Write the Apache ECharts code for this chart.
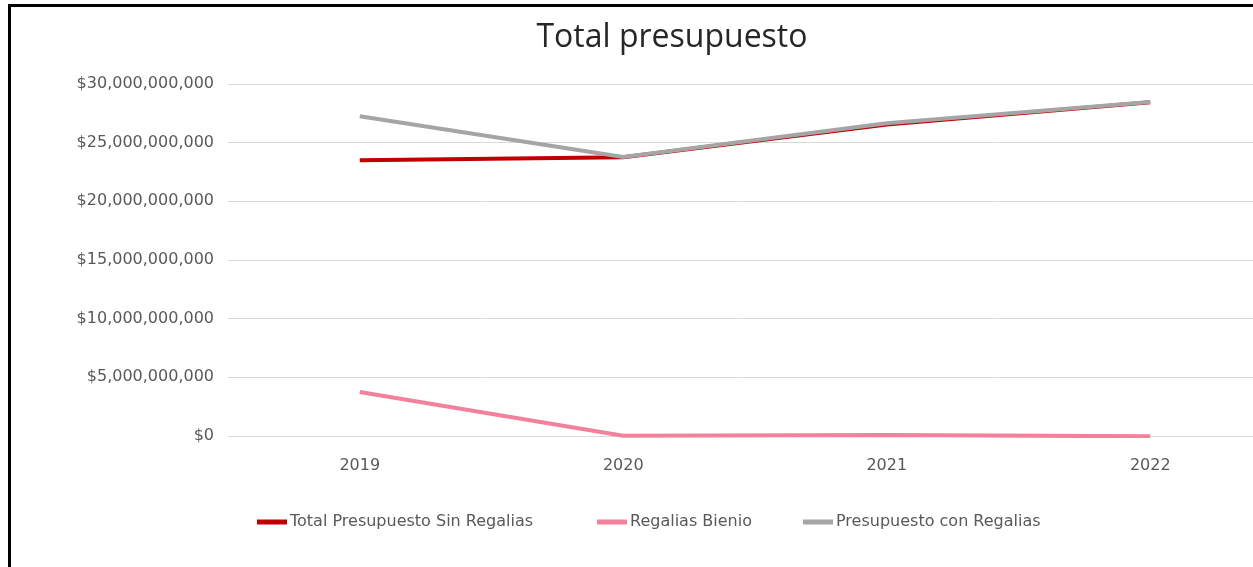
<!DOCTYPE html>
<html>
<head>
<meta charset="utf-8">
<script src="https://cdn.jsdelivr.net/npm/echarts@6/dist/echarts.min.js"></script>
<style>
  html, body { margin: 0; padding: 0; background: #fff; }
  #main { width: 1253px; height: 567px; }
</style>
</head>
<body>
<div id="main"></div>
<script>
// categorias (años)
const years = [2019, 2020, 2021, 2022];
// valores
const sinRegalias = [23500000000, 23750000000, 26550000000, 28450000000];
const regaliasBienio = [3750000000, 20000000, 80000000, -30000000];
const conRegalias = [27250000000, 23770000000, 26650000000, 28470000000];

const seriesNames = ["Total Presupuesto Sin Regalias", "Regalias Bienio", "Presupuesto con Regalias"];
const colors = ["#C00000", "#F3819B", "#A5A5A5"];
// posicion x de cada entrada de la leyenda
const legendLeft = [257, 597, 803];

let myChart = echarts.init(document.getElementById("main"));

function money(v) {
  return "$" + Math.round(v).toLocaleString("en-US");
}

let dataList = [sinRegalias, regaliasBienio, conRegalias];
let series = [];
let legends = [];
for (let i = 0; i < dataList.length; i++) {
  series.push({
    name: seriesNames[i],
    type: "line",
    showSymbol: false,
    lineStyle: { color: colors[i], width: 4 },
    itemStyle: { color: colors[i] },
    // pares [año, valor]
    data: years.map((y, k) => [y, dataList[i][k]])
  });
  legends.push({
    bottom: 37,
    left: legendLeft[i],
    padding: 0,
    itemWidth: 30,
    itemHeight: 5,
    icon: "rect",
    selectedMode: false,
    textStyle: { color: "#595959", fontSize: 16, fontFamily: "DejaVu Sans", padding: [0, 0, 0, -2] },
    data: [seriesNames[i]]
  });
}

let option = {
  animation: false,
  textStyle: { fontFamily: "DejaVu Sans" },
  title: {
    text: "Total presupuesto",
    left: 667,
    top: 17,
    textAlign: "center",
    textStyle: { color: "#262626", fontSize: 32, fontWeight: "normal", fontFamily: "Open Sans" }
  },
  grid: { left: 228, top: 84, right: 0, height: 352, containLabel: false },
  legend: legends,
  xAxis: {
    type: "value",
    // el eje empieza media categoria antes de 2019, y la derecha queda recortada
    min: 2018.5,
    max: 2022.39,
    interval: 0.5,
    axisLine: { show: false },
    axisTick: { show: false },
    splitLine: { show: false },
    axisLabel: {
      color: "#595959",
      fontSize: 16,
      margin: 22,
      showMinLabel: false,
      showMaxLabel: false,
      formatter: v => (v % 1 === 0 ? String(v) : "")
    }
  },
  yAxis: {
    type: "value",
    min: 0,
    max: 30000000000,
    interval: 5000000000,
    axisLine: { show: false },
    axisTick: { show: false },
    axisLabel: { color: "#595959", fontSize: 16, margin: 14, formatter: money },
    splitLine: { lineStyle: { color: "#D9D9D9", width: 1 } }
  },
  graphic: [
    { type: "rect", shape: { x: 8, y: 4, width: 3, height: 563 }, style: { fill: "#000" } },
    { type: "rect", shape: { x: 8, y: 4, width: 1245, height: 3 }, style: { fill: "#000" } }
  ],
  series: series
};

myChart.setOption(option, true);
</script>
</body>
</html>
